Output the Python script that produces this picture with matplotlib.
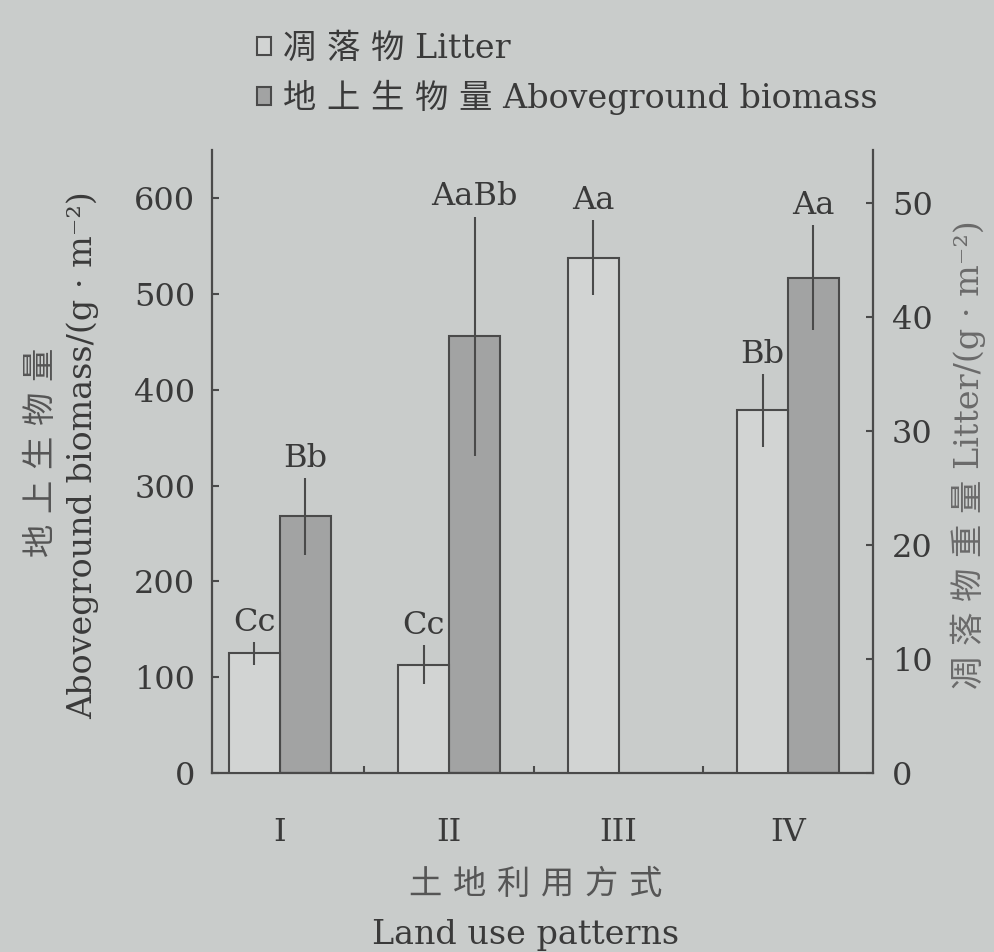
import numpy as np
import matplotlib.pyplot as plt
from matplotlib.patches import Patch

plt.rcParams['font.family'] = ['DejaVu Serif', 'Noto Sans CJK SC']

# land use patterns
groups = ['I', 'II', 'III', 'IV']

# litter, g/m2 (right axis)
litter = [10.5, 9.5, 45.2, 31.8]
litter_err = [1.0, 1.7, 3.3, 3.2]
litter_sig = ['Cc', 'Cc', 'Aa', 'Bb']

# aboveground biomass, g/m2 (left axis); III has no value
biomass = [268, 456, np.nan, 517]
biomass_err = [40, 125, np.nan, 55]
biomass_sig = ['Bb', 'AaBb', '', 'Aa']

bg = '#c9cccb'
line_c = '#4a4a4a'
gray_c = '#a2a3a3'
txt_c = '#3a3a3a'
fs = 23
lfs = 24

fig = plt.figure(figsize=(9.95, 9.52), dpi=100, facecolor=bg)
ax = fig.add_axes([0.213, 0.188, 0.664, 0.654], facecolor=bg)
ax2 = ax.twinx()

x = np.arange(1, len(groups) + 1)
w = 0.3

ax2.bar(x - w / 2, litter, w, color='#d2d4d3', edgecolor=line_c, linewidth=1.5, zorder=2)
ax2.errorbar(x - w / 2, litter, yerr=litter_err, fmt='none', ecolor=line_c,
             elinewidth=1.5, capsize=0, zorder=3)
for xi, v, e, s in zip(x - w / 2, litter, litter_err, litter_sig):
    ax2.annotate(s, (xi, v + e), xytext=(0, 3), textcoords='offset points',
                 ha='center', va='bottom', fontsize=fs, color=txt_c)

ax.bar(x + w / 2, biomass, w, color=gray_c, edgecolor=line_c, linewidth=1.5, zorder=2)
ax.errorbar(x + w / 2, biomass, yerr=biomass_err, fmt='none', ecolor=line_c,
            elinewidth=1.5, capsize=0, zorder=3)
for xi, v, e, s in zip(x + w / 2, biomass, biomass_err, biomass_sig):
    if s:
        ax.annotate(s, (xi, v + e), xytext=(0, 3), textcoords='offset points',
                    ha='center', va='bottom', fontsize=fs, color=txt_c)

ax.set_xlim(0.6, 4.5)
ax.set_ylim(0, 650)
ax2.set_ylim(0, 54.6)
ax.set_yticks(np.arange(0, 601, 100))
ax2.set_yticks(np.arange(0, 51, 10))
ax.set_xticks(x)
ax.set_xticklabels(groups)
ax.set_xticks([1.5, 2.5, 3.5], minor=True)

for a in (ax, ax2):
    a.spines['top'].set_visible(False)
    for sp in ('left', 'right', 'bottom'):
        a.spines[sp].set_color(line_c)
        a.spines[sp].set_linewidth(1.6)
ax.spines['right'].set_visible(False)
ax2.spines['left'].set_visible(False)
ax2.spines['bottom'].set_visible(False)

ax.tick_params(axis='y', direction='in', length=5, width=1.5, color=line_c,
               labelsize=fs, labelcolor=txt_c, pad=12)
ax2.tick_params(axis='y', direction='in', length=5, width=1.5, color=line_c,
                labelsize=fs, labelcolor=txt_c, pad=14)
ax.tick_params(axis='x', which='major', length=0, labelsize=fs,
               labelcolor=txt_c, pad=32)
ax.tick_params(axis='x', which='minor', direction='in', length=5, width=1.5,
               color=line_c)

# axis titles, Chinese over English
fig.text(0.042, 0.525, '地 上 生 物 量', rotation=90, ha='center', va='center',
         fontsize=lfs, color='#555555')
fig.text(0.083, 0.522, 'Aboveground biomass/(g · m⁻²)', rotation=90,
         ha='center', va='center', fontsize=lfs, color=txt_c)
fig.text(0.973, 0.522, '凋 落 物 重 量 Litter/(g · m⁻²)', rotation=90,
         ha='center', va='center', fontsize=lfs, color='#6a6a6a')
fig.text(0.538, 0.070, '土 地 利 用 方 式', ha='center', va='center',
         fontsize=lfs, color='#555555')
fig.text(0.528, 0.018, 'Land use patterns', ha='center', va='center',
         fontsize=lfs, color=txt_c)

handles = [Patch(facecolor='#d2d4d3', edgecolor=line_c, linewidth=1.5),
           Patch(facecolor=gray_c, edgecolor=line_c, linewidth=1.5)]
fig.legend(handles, ['凋 落 物 Litter', '地 上 生 物 量 Aboveground biomass'],
           loc='upper left', bbox_to_anchor=(0.228, 0.997), frameon=False,
           fontsize=lfs, handlelength=0.42, handleheight=0.42, handletextpad=0.35,
           labelspacing=0.45, labelcolor=txt_c)

fig.savefig('out.png', dpi=100, facecolor=bg)
